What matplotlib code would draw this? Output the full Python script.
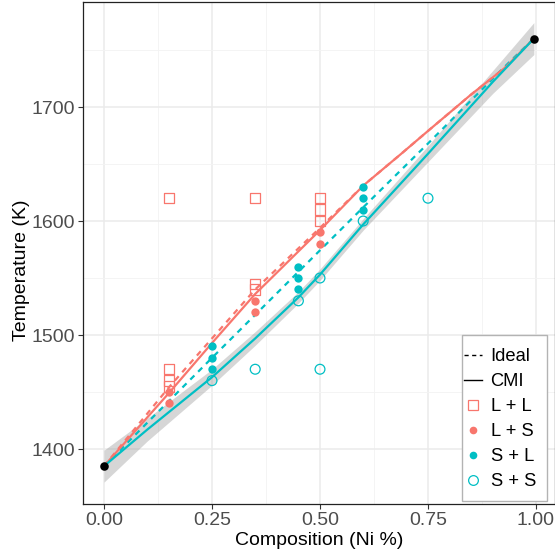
"""Cu-Ni phase diagram: ideal vs CMI liquidus/solidus with MD phase points."""
import matplotlib
matplotlib.use("Agg")
import matplotlib.pyplot as plt
from matplotlib.lines import Line2D
from matplotlib.patches import Rectangle
from matplotlib.ticker import MultipleLocator

RED = "#F8766D"
CYAN = "#00BFC4"

# pure-element melting points
pure_x = [0.0, 0.995]
pure_t = [1385, 1760]

# CMI curves
cmi_liq_x = [0.0, 0.15, 0.25, 0.35, 0.5, 0.6, 0.685, 0.75, 0.85, 0.93, 0.995]
cmi_liq_t = [1385, 1449, 1493, 1536, 1592, 1631, 1658, 1679, 1711, 1735, 1760]
cmi_sol_x = [0.0, 0.1, 0.25, 0.35, 0.45, 0.5, 0.55, 0.6, 0.75, 0.9, 0.995]
cmi_sol_t = [1385, 1417, 1463, 1497, 1533, 1553, 1575, 1597, 1659, 1722, 1760]
cmi_sol_ci = [14, 10, 7, 6, 5, 5, 5, 5, 7, 10, 14]

# ideal-solution curves
ideal_liq_x = [0.0, 0.15, 0.25, 0.35, 0.5, 0.6, 0.685, 0.75, 0.85, 0.93, 0.995]
ideal_liq_t = [1385, 1454, 1497, 1540, 1594, 1631, 1658, 1679, 1711, 1735, 1760]
ideal_sol_x = [0.0, 0.25, 0.47, 0.616, 0.75, 0.94, 0.995]
ideal_sol_t = [1385, 1480, 1563, 1618, 1668, 1740, 1760]

# simulated phase observations
ll_x = [0.15, 0.15, 0.15, 0.15, 0.35, 0.35, 0.35, 0.5, 0.5, 0.5]
ll_t = [1620, 1470, 1460, 1455, 1620, 1545, 1540, 1620, 1610, 1600]
ls_x = [0.15, 0.15, 0.35, 0.35, 0.5, 0.5]
ls_t = [1450, 1440, 1530, 1520, 1590, 1580]
sl_x = [0.25, 0.25, 0.25, 0.45, 0.45, 0.45, 0.6, 0.6, 0.6]
sl_t = [1490, 1480, 1470, 1560, 1550, 1540, 1630, 1620, 1610]
ss_x = [0.25, 0.35, 0.5, 0.5, 0.45, 0.6, 0.75]
ss_t = [1460, 1470, 1470, 1550, 1530, 1600, 1620]

plt.rcParams["font.family"] = ["Liberation Sans", "DejaVu Sans"]

W, H = 555, 554
fig = plt.figure(figsize=(W / 100, H / 100), dpi=100)
ax = fig.add_axes([83 / W, 50 / H, 472 / W, 502 / H])

lo = [t - c for t, c in zip(cmi_sol_t, cmi_sol_ci)]
hi = [t + c for t, c in zip(cmi_sol_t, cmi_sol_ci)]
ax.fill_between(cmi_sol_x, lo, hi, color="#999999", alpha=0.4, lw=0, zorder=1)

dash = (0, (2.6, 2.4))
ax.plot(ideal_liq_x, ideal_liq_t, color=RED, lw=1.6, ls=dash, zorder=2)
ax.plot(ideal_sol_x, ideal_sol_t, color=CYAN, lw=1.6, ls=dash, zorder=2)
ax.plot(cmi_liq_x, cmi_liq_t, color=RED, lw=1.6, zorder=3)
ax.plot(cmi_sol_x, cmi_sol_t, color=CYAN, lw=1.6, zorder=3)

ax.scatter(ll_x, ll_t, s=56, marker="s", facecolors="none", edgecolors=RED,
           linewidths=0.9, zorder=4)
ax.scatter(ls_x, ls_t, s=36, color=RED, linewidths=0, zorder=4)
ax.scatter(sl_x, sl_t, s=36, color=CYAN, linewidths=0, zorder=4)
ax.scatter(ss_x, ss_t, s=50, facecolors="none", edgecolors=CYAN,
           linewidths=0.9, zorder=4)
ax.scatter(pure_x, pure_t, s=38, color="black", linewidths=0, zorder=5)

ax.set_xlim(-0.0486, 1.044)
ax.set_ylim(1351.8, 1792.1)
ax.xaxis.set_major_locator(MultipleLocator(0.25))
ax.xaxis.set_minor_locator(MultipleLocator(0.125))
ax.yaxis.set_major_locator(MultipleLocator(100))
ax.yaxis.set_minor_locator(MultipleLocator(50))
ax.set_xticks([0, 0.25, 0.5, 0.75, 1.0])
ax.set_xticklabels(["0.00", "0.25", "0.50", "0.75", "1.00"])
ax.grid(True, which="major", color="#EBEBEB", lw=1.1, zorder=0)
ax.grid(True, which="minor", color="#F3F3F3", lw=0.6, zorder=0)
ax.set_axisbelow(True)
ax.tick_params(which="major", length=3.5, width=0.8, color="#333333",
               labelsize=14, labelcolor="#4D4D4D", pad=2.5)
ax.tick_params(which="minor", length=0)
for sp in ax.spines.values():
    sp.set_color("#222222")
    sp.set_linewidth(0.9)

ax.set_xlabel("Composition (Ni %)", fontsize=14)
ax.set_ylabel("Temperature (K)", fontsize=14)
ax.xaxis.set_label_coords(0.5, -0.056)
ax.yaxis.set_label_coords(-0.113, 0.466)

# legend box (frame drawn separately so it can be sized like the original)
fig.patches.append(Rectangle((462 / W, 1 - 501 / H), 85 / W, 166 / H,
                             transform=fig.transFigure, facecolor="white",
                             edgecolor="#B3B3B3", lw=1.0, zorder=10))
handles = [
    Line2D([0], [0], color="black", lw=1.0, ls=(0, (3, 2.5))),
    Line2D([0], [0], color="black", lw=1.0),
    Line2D([0], [0], marker="s", ls="none", mfc="none", mec=RED, ms=7, mew=0.9),
    Line2D([0], [0], marker="o", ls="none", color=RED, ms=5.5, mew=0),
    Line2D([0], [0], marker="o", ls="none", color=CYAN, ms=5.5, mew=0),
    Line2D([0], [0], marker="o", ls="none", mfc="none", mec=CYAN, ms=7, mew=0.9),
]
labels = ["Ideal", "CMI", "L + L", "L + S", "S + L", "S + S"]
leg = fig.legend(handles, labels, loc="upper left",
                 bbox_to_anchor=(464 / W, 1 - 348 / H),
                 fontsize=13.2, frameon=False, handlelength=1.0,
                 handletextpad=0.45, labelspacing=0.44, borderpad=0,
                 borderaxespad=0)
leg.set_zorder(11)

fig.savefig("out.png", dpi=100)
